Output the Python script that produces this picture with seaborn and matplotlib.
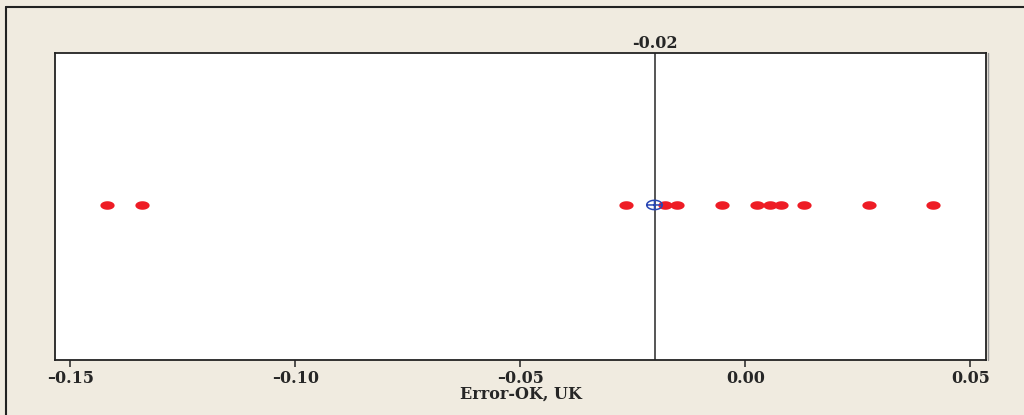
import numpy as np
import pandas as pd
import matplotlib
matplotlib.use("Agg")
import matplotlib.pyplot as plt
from matplotlib.path import Path
from matplotlib.lines import Line2D
import seaborn as sns

# Individual errors (Error-OK, UK)
errors = [-0.1419, -0.1340, -0.0264, -0.0178, -0.0151, -0.0052,
          0.0027, 0.0055, 0.0079, 0.0130, 0.0274, 0.0418]
ref_value = -0.02
x_ticks = [-0.15, -0.10, -0.05, 0.00, 0.05]
x_label = "Error-OK, UK"

df = pd.DataFrame({"err": errors, "row": 0.0})
mean_err = float(np.mean(errors))

# Marker shapes: flattened dot and flattened circle with a cross
theta = np.linspace(0, 2 * np.pi, 60)
ex, ey = np.cos(theta), 0.6 * np.sin(theta)
dot = Path(np.column_stack([ex, ey]), closed=True)

verts = list(zip(ex, ey)) + [(-1, 0), (1, 0), (0, -0.6), (0, 0.6)]
codes = ([Path.MOVETO] + [Path.LINETO] * (len(ex) - 1)
         + [Path.MOVETO, Path.LINETO, Path.MOVETO, Path.LINETO])
cross_circle = Path(verts, codes)

BG = "#F0EBE0"
serif = ["DejaVu Serif", "Liberation Serif"]

sns.set_style("white")
plt.rcParams["font.family"] = serif

fig = plt.figure(figsize=(10.24, 4.15), dpi=100, facecolor=BG)
ax = fig.add_axes([55 / 1024, 1 - 360 / 415, 931 / 1024, 307 / 415])
ax.set_facecolor("white")

sns.scatterplot(data=df, x="err", y="row", ax=ax, marker=dot, s=105,
                color="#EE1C25", edgecolor="#EE1C25", linewidth=0, zorder=3)
ax.scatter([mean_err], [0.0], marker=cross_circle, s=125, facecolor="none",
           edgecolor="#2846B4", linewidth=1.1, zorder=4)

ax.axvline(ref_value, color="#555555", linewidth=1.4, zorder=2)
ax.text(ref_value, 1.004, f"{ref_value:.2f}",
        transform=ax.get_xaxis_transform(), ha="center", va="bottom",
        fontsize=11.5, fontweight="bold", family=serif)

ax.set_xlim(-0.1534, 0.0535)
ax.set_ylim(-1.01, 0.99)
ax.set_yticks([])
ax.set_xticks(x_ticks)
ax.set_xticklabels([f"{t:.2f}".replace("-", "\u2013") for t in x_ticks],
                   fontsize=11.5, fontweight="bold")
ax.tick_params(axis="x", direction="out", length=5, width=1.2, color="#333333",
               bottom=True, pad=2.5)
ax.set_xlabel(x_label, fontsize=11.5, fontweight="bold")
ax.xaxis.set_label_coords(0.5, -0.083)
ax.set_ylabel("")

for sp in ax.spines.values():
    sp.set_visible(True)
    sp.set_color("#222222")
    sp.set_linewidth(1.3)

# Soft shadow on the right edge of the plot frame
fig.add_artist(Line2D([988 / 1024, 988 / 1024], [1 - 360 / 415, 1 - 53 / 415],
                      transform=fig.transFigure, color="#999999", linewidth=1.0))

# Outer frame lines
fig.add_artist(Line2D([6 / 1024, 1.0], [1 - 7 / 415, 1 - 7 / 415],
                      transform=fig.transFigure, color="#222222", linewidth=1.5))
fig.add_artist(Line2D([6 / 1024, 6 / 1024], [0.0, 1 - 7 / 415],
                      transform=fig.transFigure, color="#222222", linewidth=1.5))

fig.savefig("out.png", dpi=100, facecolor=BG)
